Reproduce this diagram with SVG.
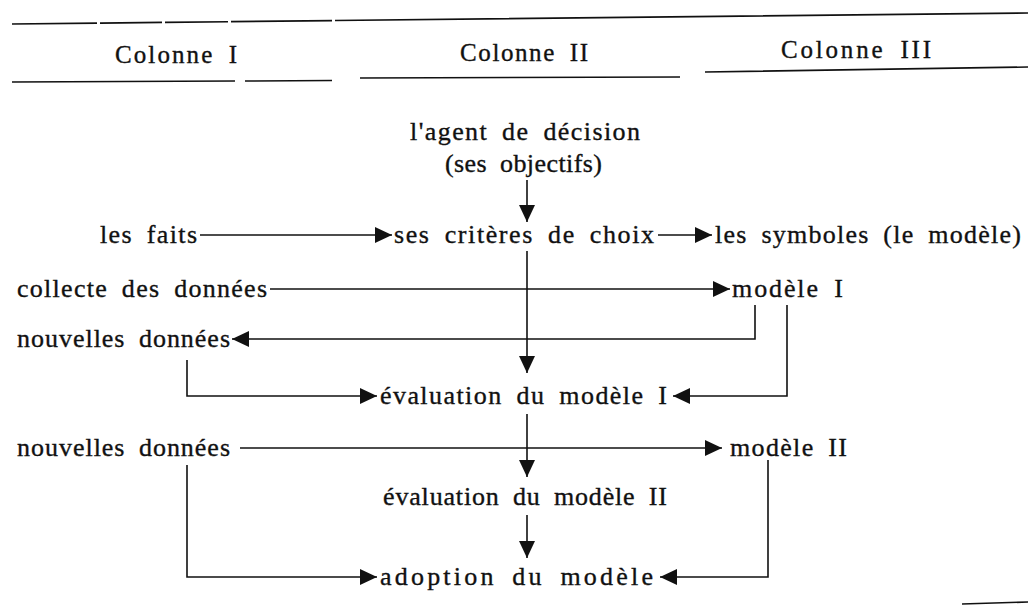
<svg xmlns="http://www.w3.org/2000/svg" width="1028" height="607" viewBox="0 0 1028 607">
<defs>
<style>
text{font-family:"Liberation Serif","DejaVu Serif",serif;font-size:26px;fill:#111;stroke:#111;stroke-width:0.35;word-spacing:6px}
.h{font-size:25px}
.rule{stroke:#111;stroke-width:1.6;fill:none}
.c{stroke:#111;stroke-width:1.6;fill:none}
</style>
<marker id="ah" markerUnits="userSpaceOnUse" markerWidth="18" markerHeight="17" refX="17" refY="8" orient="auto">
<path d="M0,0 L17,8 L0,16 z" fill="#111"/>
</marker>
</defs>
<rect width="1028" height="607" fill="#fff"/>
<g id="header">
<path class="rule" d="M12,24 L97,23.1 M100,23.1 L162,22.4 M165,22.4 L228,21.7 M231,21.6 L332,20.6 M335,20.5 L1028,13"/>
<path class="rule" d="M12,82 L235,81 M245,81 L332,80.5 M360,78 L680,77 M705,72 L1028,67"/>
<path class="rule" d="M962,604 L1028,602"/>
<text class="h" x="115" y="63" textLength="122" lengthAdjust="spacing">Colonne I</text>
<text class="h" x="460" y="61" textLength="128" lengthAdjust="spacing">Colonne II</text>
<text class="h" x="781" y="58" textLength="150" lengthAdjust="spacing">Colonne III</text>
</g>
<g id="connectors">
<path class="c" d="M527,180 V222" marker-end="url(#ah)"/>
<path class="c" d="M200,235 H392" marker-end="url(#ah)"/>
<path class="c" d="M658,235 H712" marker-end="url(#ah)"/>
<path class="c" d="M527,251 V373" marker-end="url(#ah)"/>
<path class="c" d="M270,289 H730" marker-end="url(#ah)"/>
<path class="c" d="M755,305 V339 H232" marker-end="url(#ah)"/>
<path class="c" d="M787,305 V396 H673" marker-end="url(#ah)"/>
<path class="c" d="M187,360 V396 H377" marker-end="url(#ah)"/>
<path class="c" d="M527,414 V477" marker-end="url(#ah)"/>
<path class="c" d="M240,448 H722" marker-end="url(#ah)"/>
<path class="c" d="M768,460 V577 H660" marker-end="url(#ah)"/>
<path class="c" d="M187,465 V577 H377" marker-end="url(#ah)"/>
<path class="c" d="M527,515 V558" marker-end="url(#ah)"/>
</g>
<g id="agent"><text x="410" y="140" textLength="230" lengthAdjust="spacing">l'agent de décision</text>
<text x="445" y="172" textLength="157" lengthAdjust="spacing">(ses objectifs)</text></g>
<g id="faits"><text x="100" y="243" textLength="97" lengthAdjust="spacing">les faits</text></g>
<g id="criteres"><text x="394" y="243" textLength="260" lengthAdjust="spacing">ses critères de choix</text></g>
<g id="symboles"><text x="715" y="243" textLength="306" lengthAdjust="spacing">les symboles (le modèle)</text></g>
<g id="collecte"><text x="17" y="297" textLength="250" lengthAdjust="spacing">collecte des données</text></g>
<g id="modele1"><text x="732" y="297" textLength="111" lengthAdjust="spacing">modèle I</text></g>
<g id="nouvelles1"><text x="17" y="347" textLength="213" lengthAdjust="spacing">nouvelles données</text></g>
<g id="eval1"><text x="380" y="404" textLength="287" lengthAdjust="spacing">évaluation du modèle I</text></g>
<g id="nouvelles2"><text x="17" y="456" textLength="213" lengthAdjust="spacing">nouvelles données</text></g>
<g id="modele2"><text x="730" y="456" textLength="117" lengthAdjust="spacing">modèle II</text></g>
<g id="eval2"><text x="383" y="505" textLength="284" lengthAdjust="spacing">évaluation du modèle II</text></g>
<g id="adoption"><text x="380" y="585" textLength="273" lengthAdjust="spacing">adoption du modèle</text></g>
</svg>
